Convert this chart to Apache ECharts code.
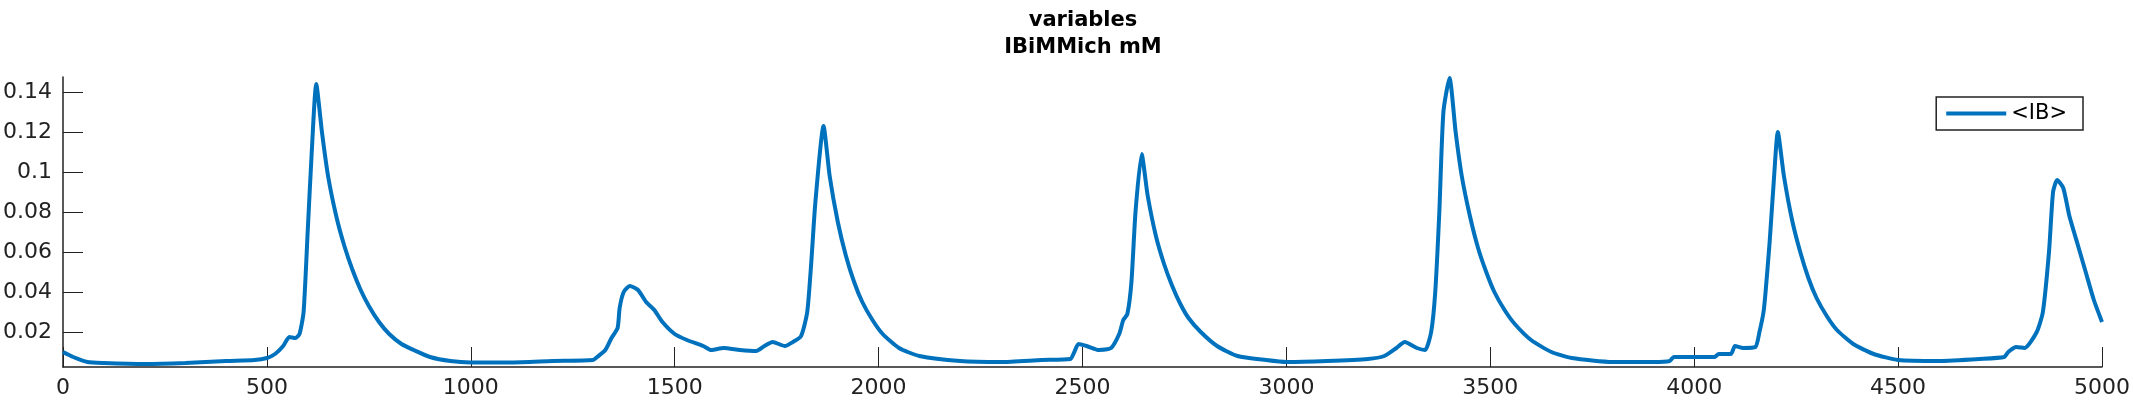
<!DOCTYPE html>
<html>
<head>
<meta charset="utf-8">
<script src="https://cdn.jsdelivr.net/npm/echarts@6/dist/echarts.min.js"></script>
<style>html,body{margin:0;padding:0;background:#fff}#chart{width:2133px;height:400px}</style>
</head>
<body>
<div id="chart"></div>
<script>
// time values and <IB> concentration (mM)
var xs = [0,25,60,100,200,300,400,470,500,520,540,555,570,580,590,600,610,621,635,650,670,690,710,730,750,775,800,830,860,900,950,1000,1100,1200,1300,
  1310,1330,1345,1360,1365,1375,1390,1410,1430,1450,1470,1500,1530,1570,1590,1620,1660,1700,1720,1740,1770,1790,1810,1825,1835,1845,1865,1880,1900,1920,1940,1960,1985,2010,2050,2100,2200,2300,2400,2470,2480,2490,2510,2540,2570,2590,2600,2610,2620,2630,2645,2660,2680,2700,2720,2740,2760,2790,2830,2880,2950,3000,3100,3200,3240,3270,3290,3320,3340,3355,3365,3375,3385,3400,3415,3430,3450,3470,3490,3510,3535,3560,3600,3650,3700,3800,3900,3940,3950,4050,4060,4090,4100,4120,4150,4160,4170,4175,4185,4195,4205,4220,4240,4260,4280,4300,4325,4350,4390,4440,4500,4600,4700,4760,4770,4790,4810,4840,4855,4870,4880,4890,4905,4920,4940,4960,4980,5000];
var ib = [.010,.0075,.005,.0045,.004,.0045,.0055,.006,.007,.009,.013,.0175,.017,.019,.03,.07,.11,.144,.12,.098,.078,.063,.051,.041,.033,.025,.019,.014,.011,.0075,.0055,.0048,.0048,.0055,.006,
  .0075,.011,.017,.022,.032,.04,.043,.041,.035,.031,.025,.019,.016,.013,.011,.012,.011,.0105,.013,.015,.013,.015,.018,.03,.055,.085,.123,.098,.075,.058,.045,.035,.026,.019,.012,.008,.0055,.005,.006,.0065,.01,.014,.013,.011,.012,.019,.026,.029,.045,.08,.109,.088,.068,.054,.043,.034,.027,.02,.013,.008,.006,.005,.0055,.0065,.008,.012,.015,.012,.011,.02,.04,.08,.13,.147,.12,.098,.078,.062,.05,.04,.031,.024,.016,.01,.007,.005,.005,.0055,.0075,.0075,.009,.009,.013,.012,.0125,.02,.03,.04,.065,.095,.12,.098,.076,.06,.047,.037,.028,.021,.014,.009,.006,.0055,.0065,.0075,.01,.0125,.012,.02,.03,.06,.09,.096,.092,.078,.064,.05,.036,.025];
var yTicks = [0.02,0.04,0.06,0.08,0.1,0.12,0.14];
var xTicks = [0,500,1000,1500,2000,2500,3000,3500,4000,4500,5000];

var pts = [];
for (var i = 0; i < xs.length; i++) pts.push([xs[i], ib[i]]);

var chart = echarts.init(document.getElementById('chart'));
chart.setOption({
  animation: false,
  title: {
    text: 'variables\nIBiMMich mM',
    left: 1078, top: 2, textAlign: 'center',
    textStyle: {fontFamily: 'DejaVu Sans', fontSize: 21, fontWeight: 'bold', color: '#000', lineHeight: 27}
  },
  grid: {left: 54, right: 30, top: 77, bottom: 33},
  legend: {
    data: ['<IB>'], right: 50, top: 97, orient: 'vertical',
    borderColor: '#222', borderWidth: 1.5, padding: [6, 16, 6, 10],
    itemWidth: 60, itemHeight: 4, icon: 'rect',
    textStyle: {fontFamily: 'DejaVu Sans', fontSize: 21, color: '#000'}
  },
  xAxis: {
    type: 'value', min: 0, max: 5000, interval: 500,
    axisLine: {lineStyle: {color: '#222', width: 1.5}},
    axisTick: {inside: true, length: 20, lineStyle: {color: '#222'}, customValues: xTicks},
    axisLabel: {fontFamily: 'DejaVu Sans', fontSize: 22, color: '#222', margin: 10, customValues: xTicks,
      formatter: function (v) { return String(v); }},
    splitLine: {show: false}
  },
  yAxis: {
    type: 'value', min: 0.0025, max: 0.1475,
    axisLine: {show: true, lineStyle: {color: '#222', width: 1.5}},
    axisTick: {show: true, inside: true, length: 20, lineStyle: {color: '#222'}, customValues: yTicks},
    axisLabel: {fontFamily: 'DejaVu Sans', fontSize: 22, color: '#222', margin: 11, customValues: yTicks,
      formatter: function (v) { return String(v); }},
    splitLine: {show: false}
  },
  series: [{
    name: '<IB>', type: 'line', data: pts, showSymbol: false, smooth: 0.2,
    lineStyle: {color: '#0072BD', width: 4}, itemStyle: {color: '#0072BD'}
  }]
});
</script>
</body>
</html>
